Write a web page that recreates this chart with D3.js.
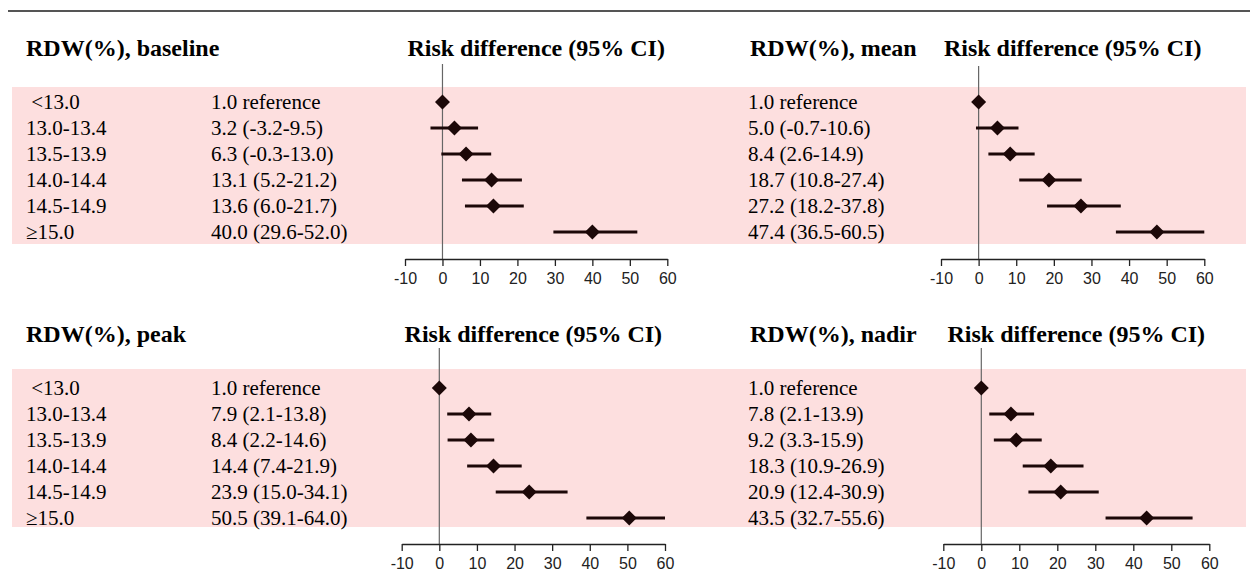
<!DOCTYPE html>
<html>
<head>
<meta charset="utf-8">
<script src="https://cdn.jsdelivr.net/npm/d3@7"></script>
<style>
  body { margin: 0; background: #fff; }
  text { white-space: pre; }
</style>
</head>
<body>
<div id="chart"></div>
<script>
(function (d3) {
  'use strict';

  // RDW categories (rows)
  const categories = [' <13.0', '13.0-13.4', '13.5-13.9', '14.0-14.4', '14.5-14.9', '\u226515.0'];
  const refText = '1.0 reference';
  const ticks = [-10, 0, 10, 20, 30, 40, 50, 60];

  // risk difference, lower and upper 95% CI (first row = reference)
  const baselineEst = [0, 3.2, 6.3, 13.1, 13.6, 40.0];
  const baselineLo = [null, -3.2, -0.3, 5.2, 6.0, 29.6];
  const baselineHi = [null, 9.5, 13.0, 21.2, 21.7, 52.0];

  const meanEst = [0, 5.0, 8.4, 18.7, 27.2, 47.4];
  const meanLo = [null, -0.7, 2.6, 10.8, 18.2, 36.5];
  const meanHi = [null, 10.6, 14.9, 27.4, 37.8, 60.5];

  const peakEst = [0, 7.9, 8.4, 14.4, 23.9, 50.5];
  const peakLo = [null, 2.1, 2.2, 7.4, 15.0, 39.1];
  const peakHi = [null, 13.8, 14.6, 21.9, 34.1, 64.0];

  const nadirEst = [0, 7.8, 9.2, 18.3, 20.9, 43.5];
  const nadirLo = [null, 2.1, 3.3, 10.9, 12.4, 32.7];
  const nadirHi = [null, 13.9, 15.9, 26.9, 30.9, 55.6];

  var width = 1250,
      height = 580,
      serif = '"Liberation Serif", "Times New Roman", serif',
      sans = '"Liberation Sans", Arial, sans-serif',
      ink = '#1c0808';

  var panels = [
    { title: 'RDW(%), baseline', est: baselineEst, lo: baselineLo, hi: baselineHi,
      labels: true, titleX: 26, textX: 211, xr: [405, 667.3], titleY: 56, zeroTop: 64,
      rows: [102, 232], axisY: 259 },
    { title: 'RDW(%), mean', est: meanEst, lo: meanLo, hi: meanHi,
      labels: false, titleX: 750, textX: 748, xr: [941, 1204.3], titleY: 56, zeroTop: 66,
      rows: [102, 232], axisY: 259 },
    { title: 'RDW(%), peak', est: peakEst, lo: peakLo, hi: peakHi,
      labels: true, titleX: 26, textX: 211, xr: [401.7, 665], titleY: 342, zeroTop: 348,
      rows: [388, 518], axisY: 544 },
    { title: 'RDW(%), nadir', est: nadirEst, lo: nadirLo, hi: nadirHi,
      labels: false, titleX: 750, textX: 748, xr: [943.3, 1209.3], titleY: 342, zeroTop: 348,
      rows: [388, 518], axisY: 544 }
  ];

  var svg = d3.select('#chart').append('svg')
      .attr('width', width)
      .attr('height', height);

  // top rule
  svg.append('line')
      .attr('x1', 8).attr('x2', width)
      .attr('y1', 11).attr('y2', 11)
      .attr('stroke', '#555')
      .attr('stroke-width', 2);

  // pink bands behind each row of panels
  [[87, 244], [369, 527]].forEach(function (b) {
    svg.append('rect')
        .attr('x', 12).attr('y', b[0])
        .attr('width', 1234).attr('height', b[1] - b[0])
        .attr('fill', '#fddfdf');
  });

  function stext(g, x, y, str, size, bold, anchor) {
    return g.append('text')
        .attr('x', x)
        .attr('y', y)
        .attr('text-anchor', anchor || 'start')
        .attr('font-family', serif)
        .attr('font-size', size)
        .attr('font-weight', bold ? 'bold' : 'normal')
        .attr('fill', '#000')
        .text(str);
  }

  function fmt(v) { return v.toFixed(1); }

  function drawPanel(p) {
    var g = svg.append('g');
    var x = d3.scaleLinear().domain([-10, 60]).range(p.xr);
    var y = d3.scalePoint().domain(d3.range(categories.length)).range(p.rows);

    stext(g, p.titleX, p.titleY, p.title, 24, true);
    stext(g, (p.xr[0] + p.xr[1]) / 2, p.titleY, 'Risk difference (95% CI)', 24, true, 'middle');

    categories.forEach(function (c, i) {
      if (p.labels) stext(g, 26, y(i) + 7, c, 21, false);
      var s = p.lo[i] == null ? refText
        : fmt(p.est[i]) + ' (' + fmt(p.lo[i]) + '-' + fmt(p.hi[i]) + ')';
      stext(g, p.textX, y(i) + 7, s, 21, false);
    });

    // zero line
    g.append('line')
        .attr('x1', x(0)).attr('x2', x(0))
        .attr('y1', p.zeroTop).attr('y2', p.axisY)
        .attr('stroke', '#666')
        .attr('stroke-width', 1.2);

    var rows = d3.range(categories.length);

    g.selectAll('line.ci').data(rows.filter(function (i) { return p.lo[i] != null; }))
      .enter().append('line')
        .attr('class', 'ci')
        .attr('x1', function (i) { return x(Math.max(-10, p.lo[i])); })
        .attr('x2', function (i) { return x(Math.min(60, p.hi[i])); })
        .attr('y1', function (i) { return y(i); })
        .attr('y2', function (i) { return y(i); })
        .attr('stroke', ink)
        .attr('stroke-width', 3);

    var r = 7.5;
    g.selectAll('path.pt').data(rows).enter()
      .append('path')
        .attr('class', 'pt')
        .attr('d', function (i) {
          var cx = x(p.est[i]), cy = y(i);
          return 'M' + (cx - r) + ',' + cy + 'L' + cx + ',' + (cy - r) +
                 'L' + (cx + r) + ',' + cy + 'L' + cx + ',' + (cy + r) + 'Z';
        })
        .attr('fill', ink);

    var axis = g.append('g')
        .attr('transform', 'translate(0,' + p.axisY + ')')
        .call(d3.axisBottom(x).tickValues(ticks).tickSize(7).tickSizeOuter(0).tickPadding(7)
          .tickFormat(function (d) { return String(d); }));
    axis.select('.domain').attr('stroke', '#222').attr('stroke-width', 1.3);
    axis.selectAll('.tick line').attr('stroke', '#222').attr('stroke-width', 1.3);
    axis.selectAll('.tick text')
        .attr('font-family', sans)
        .attr('font-size', 16)
        .attr('fill', '#222');
  }

  panels.forEach(drawPanel);
})(d3);
</script>
</body>
</html>
